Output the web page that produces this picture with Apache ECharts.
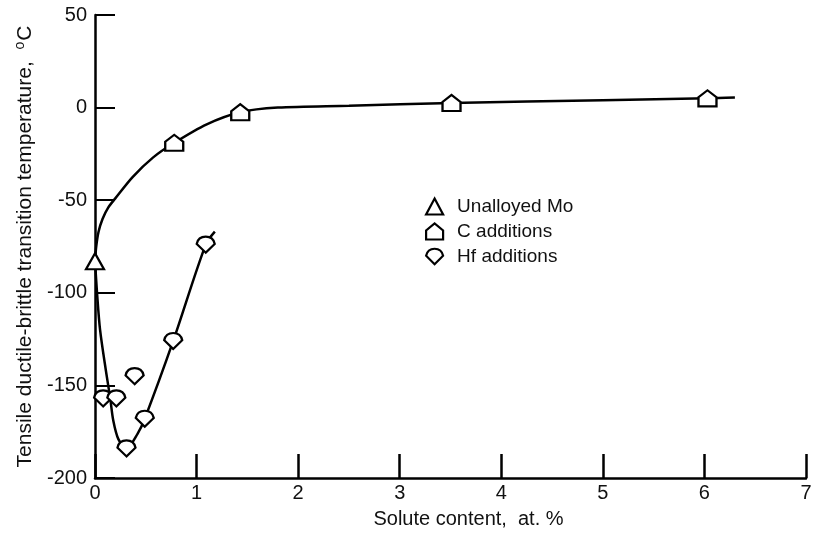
<!DOCTYPE html>
<html>
<head>
<meta charset="utf-8">
<script src="https://cdn.jsdelivr.net/npm/echarts@6/dist/echarts.min.js"></script>
<style>
  html, body { margin: 0; padding: 0; background: #fff; }
  #chart { width: 815px; height: 537px; }
</style>
</head>
<body>
<div id="chart"></div>
<script>
// Measured points: solute content (at.%) vs transition temperature (°C)
const unalloyedMo = [[0, -83]];
const cAdditions = [[0.78, -19], [1.43, -2.5], [3.51, 2.5], [6.03, 5]];
const hfAdditions = [[0.08, -157], [0.21, -157], [0.31, -184], [0.39, -145], [0.49, -168], [0.77, -126], [1.09, -74]];

// Hand-drawn trend curves through the data
const cCurve = [[0, -83], [0.012, -75], [0.035, -67], [0.075, -60], [0.13, -54], [0.2, -49], [0.37, -37.5], [0.57, -27], [0.78, -19], [1.1, -9], [1.43, -2.5], [1.8, 0], [2.5, 1], [3.51, 2.5], [5, 4], [6.03, 5], [6.3, 5.5]];
const hfCurve = [[0, -83], [0.02, -100], [0.05, -120], [0.11, -143], [0.15, -157], [0.18, -169], [0.23, -179], [0.31, -184], [0.42, -176], [0.49, -168], [0.77, -126], [1.09, -74], [1.18, -67]];

const xTicks = { min: 0, max: 7, step: 1 };
const yTicks = { min: -200, max: 50, step: 50 };

const FONT = "'Liberation Sans', Arial, sans-serif";

const houseSym = 'path://M0,16 L0,7 L8.5,0 L17,7 L17,16 Z';
const hfSym = 'path://M8.5,16 L0,7.5 Q1.5,0.5 8.5,0.5 Q15.5,0.5 17,7.5 Z';

const markerStyle = { color: '#fff', borderColor: '#000', borderWidth: 2.2, opacity: 1 };

const chart = echarts.init(document.getElementById('chart'), null, { renderer: 'canvas' });
chart.setOption({
  animation: false,
  backgroundColor: '#fff',
  grid: { left: 95, right: 9, top: 15, bottom: 59, containLabel: false },
  xAxis: {
    type: 'value',
    min: xTicks.min, max: xTicks.max, interval: xTicks.step,
    name: 'Solute content,  at. %',
    nameLocation: 'middle',
    nameGap: 31,
    nameTextStyle: { fontFamily: FONT, fontSize: 20, color: '#111', padding: [0, 0, 0, 36] },
    axisLine: { show: true, onZero: false, lineStyle: { color: '#000', width: 2.5 } },
    axisTick: { show: true, inside: true, length: 24, lineStyle: { color: '#000', width: 2.5 } },
    axisLabel: { fontFamily: FONT, fontSize: 20, color: '#111', margin: 5 },
    splitLine: { show: false }
  },
  yAxis: {
    type: 'value',
    min: yTicks.min, max: yTicks.max, interval: yTicks.step,
    name: '{t|Tensile ductile-brittle transition temperature,  }{s|o}{t|C}',
    nameLocation: 'middle',
    nameGap: 58,
    nameRotate: 90,
    nameTextStyle: {
      rich: {
        t: { fontFamily: FONT, fontSize: 21, color: '#111' },
        s: { fontFamily: FONT, fontSize: 14, color: '#111', verticalAlign: 'top', padding: [0, 1, 10, 0] }
      }
    },
    axisLine: { show: true, onZero: false, lineStyle: { color: '#000', width: 2.5 } },
    axisTick: { show: true, inside: true, length: 20, lineStyle: { color: '#000', width: 2 } },
    axisLabel: { fontFamily: FONT, fontSize: 20, color: '#111', margin: 8 },
    splitLine: { show: false }
  },
  legend: {
    orient: 'vertical',
    left: 420, top: 192,
    itemGap: 6,
    itemWidth: 17, itemHeight: 16,
    textStyle: { fontFamily: FONT, fontSize: 19, color: '#111', padding: [0, 0, 0, 9] },
    itemStyle: { color: '#fff', borderColor: '#000', borderWidth: 2.2 },
    data: [
      { name: 'Unalloyed Mo', icon: 'triangle' },
      { name: 'C additions', icon: houseSym },
      { name: 'Hf additions', icon: hfSym }
    ]
  },
  series: [
    {
      name: 'C curve', type: 'line', data: cCurve, smooth: 0.3, showSymbol: false,
      lineStyle: { color: '#000', width: 2.5 }, z: 2, silent: true
    },
    {
      name: 'Hf curve', type: 'line', data: hfCurve, smooth: 0.3, showSymbol: false,
      lineStyle: { color: '#000', width: 2.5 }, z: 2, silent: true
    },
    {
      name: 'Unalloyed Mo', type: 'scatter', data: unalloyedMo,
      symbol: 'triangle', symbolSize: [18, 16], itemStyle: markerStyle, z: 5
    },
    {
      name: 'C additions', type: 'scatter', data: cAdditions,
      symbol: houseSym, symbolSize: [18, 16], itemStyle: markerStyle, z: 5
    },
    {
      name: 'Hf additions', type: 'scatter', data: hfAdditions,
      symbol: hfSym, symbolSize: [18, 16], itemStyle: markerStyle, z: 5
    }
  ]
});
</script>
</body>
</html>
